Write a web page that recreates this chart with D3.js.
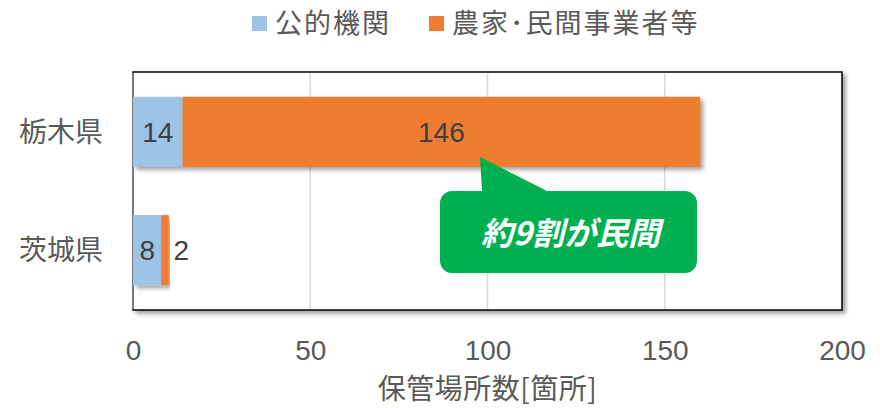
<!DOCTYPE html>
<html><head><meta charset="utf-8">
<script src="https://cdn.jsdelivr.net/npm/d3@7"></script>
<style>
html,body{margin:0;padding:0;background:#fff;}
svg{display:block;}
</style></head>
<body>
<svg id="chart" width="880" height="408"></svg>
<script>
const categories = ["栃木県", "茨城県"];
const seriesNames = ["公的機関", "農家･民間事業者等"];
const publicValues = [14, 8];
const privateValues = [146, 2];
const xTicks = [0, 50, 100, 150, 200];
const axisTitle = "保管場所数[箇所]";
const calloutText = "約9割が民間";

const colors = ["#9DC3E6", "#ED7D31"];
const jp = "'Noto Sans CJK JP','Noto Sans',sans-serif";
const num = "'Liberation Sans Narrow','Liberation Sans','Noto Sans',sans-serif";

const svg = d3.select("#chart");
const m = {left: 133, right: 842, top: 72, bottom: 310};

const defs = svg.append("defs");
const f = defs.append("filter").attr("id","shadow").attr("x","-10%").attr("y","-10%").attr("width","130%").attr("height","140%");
f.append("feDropShadow").attr("dx",3).attr("dy",3).attr("stdDeviation",2.2).attr("flood-color","#000").attr("flood-opacity",0.38);

const x = d3.scaleLinear().domain([0, 200]).range([m.left, m.right]);
const y = d3.scaleBand().domain(categories).range([m.top, m.bottom]).paddingInner(0.41).paddingOuter(0.21);

// plot area
svg.append("rect").attr("x", m.left).attr("y", m.top).attr("width", m.right - m.left).attr("height", m.bottom - m.top)
  .attr("fill", "#fff").attr("stroke", "#000").attr("stroke-width", 1.5).attr("filter","url(#shadow)");

// gridlines
svg.append("g").selectAll("line").data(xTicks.filter(t => t > 0 && t < 200)).join("line")
  .attr("x1", d => x(d)).attr("x2", d => x(d)).attr("y1", m.top + 1).attr("y2", m.bottom - 1)
  .attr("stroke", "#d9d9d9").attr("stroke-width", 1.5);
svg.append("line").attr("x1", x(0)).attr("x2", x(0)).attr("y1", m.top+1).attr("y2", m.bottom-1)
  .attr("stroke", "#a6a6a6").attr("stroke-width", 1.2);

// stacked data
const stackData = categories.map((c, i) => ({cat: c, s0: publicValues[i], s1: privateValues[i]}));
const stack = d3.stack().keys(["s0", "s1"])(stackData);

const barG = svg.append("g");
stack.forEach((layer, li) => {
  barG.append("g").selectAll("rect").data(layer).join("rect")
    .attr("x", d => x(d[0])).attr("y", d => y(d.data.cat))
    .attr("width", d => x(d[1]) - x(d[0])).attr("height", y.bandwidth())
    .attr("fill", colors[li]).attr("filter", "url(#shadow)");
});
stack.forEach((layer, li) => {
  barG.append("g").selectAll("rect").data(layer).join("rect")
    .attr("x", d => x(d[0])).attr("y", d => y(d.data.cat))
    .attr("width", d => x(d[1]) - x(d[0])).attr("height", y.bandwidth())
    .attr("fill", colors[li]);
});

// data labels
const lblG = svg.append("g").attr("font-family", num).attr("font-size", 28).attr("fill", "#404040");
stack.forEach((layer, li) => {
  lblG.append("g").selectAll("text").data(layer).join("text")
    .attr("x", d => {
      const w = x(d[1]) - x(d[0]);
      return w < 20 ? x(d[1]) + 5 : (x(d[0]) + x(d[1])) / 2;
    })
    .attr("text-anchor", d => (x(d[1]) - x(d[0]) < 20) ? "start" : "middle")
    .attr("y", d => y(d.data.cat) + y.bandwidth() / 2)
    .attr("dy", "0.36em")
    .text(d => d[1] - d[0]);
});

// category labels
svg.append("g").selectAll("text").data(categories).join("text")
  .attr("x", 103).attr("y", d => y(d) + y.bandwidth() / 2).attr("dy", "0.36em")
  .attr("text-anchor", "end").attr("font-family", jp).attr("font-size", 28).attr("fill", "#595959")
  .text(d => d);

// x axis tick labels
const axis = d3.axisBottom(x).tickValues(xTicks).tickSize(0).tickPadding(0);
const ag = svg.append("g").attr("transform", `translate(0, 350)`).call(axis);
ag.select(".domain").remove();
ag.selectAll("text").attr("font-family", num).attr("font-size", 28).attr("fill", "#595959").attr("dy", "0.36em").attr("y", 0);

// axis title
svg.append("text").attr("x", (m.left + m.right) / 2).attr("y", 389).attr("dy", "0.36em")
  .attr("text-anchor", "middle").attr("font-family", jp).attr("font-size", 28).attr("letter-spacing", 0.5).attr("fill", "#595959").text(axisTitle);

// legend
const legend = svg.append("g");
const legX = [252, 429];
seriesNames.forEach((n, i) => {
  legend.append("rect").attr("x", legX[i]).attr("y", 16).attr("width", 15).attr("height", 15).attr("fill", colors[i]);
  legend.append("text").attr("x", legX[i] + 23).attr("y", 23.5).attr("dy", "0.36em")
    .attr("font-family", jp).attr("font-size", 27).attr("fill", "#595959").attr("letter-spacing", 2).text(n);
});

// callout
const cx0 = 440, cx1 = 697, cy0 = 191, cy1 = 273, r = 12;
const tip = [480, 157], b0 = 482, b1 = 547;
const p = d3.path();
p.moveTo(cx0 + r, cy0);
p.lineTo(b0, cy0);
p.lineTo(tip[0], tip[1]);
p.lineTo(b1, cy0);
p.lineTo(cx1 - r, cy0);
p.arcTo(cx1, cy0, cx1, cy0 + r, r);
p.lineTo(cx1, cy1 - r);
p.arcTo(cx1, cy1, cx1 - r, cy1, r);
p.lineTo(cx0 + r, cy1);
p.arcTo(cx0, cy1, cx0, cy1 - r, r);
p.lineTo(cx0, cy0 + r);
p.arcTo(cx0, cy0, cx0 + r, cy0, r);
p.closePath();
svg.append("path").attr("d", p.toString()).attr("fill", "#00B050");
svg.append("text").attr("x", (cx0 + cx1) / 2 + 2).attr("y", (cy0 + cy1) / 2 + 1).attr("dy", "0.36em")
  .attr("text-anchor", "middle").attr("font-family", jp).attr("font-size", 32).attr("font-weight", "bold")
  .attr("font-style", "italic").attr("fill", "#fff").text(calloutText);
</script>
</body></html>
